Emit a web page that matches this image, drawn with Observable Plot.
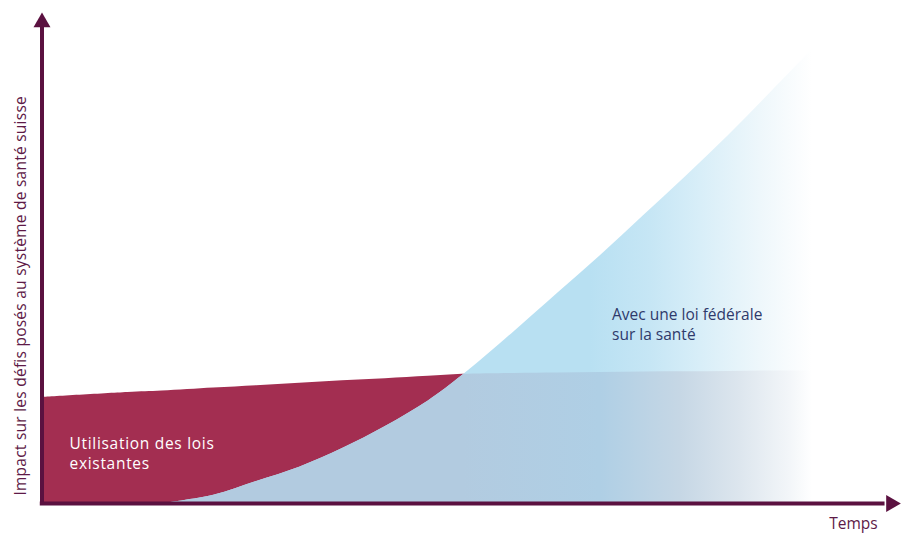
<!DOCTYPE html>
<html><head><meta charset="utf-8">
<script src="https://cdn.jsdelivr.net/npm/d3@7"></script>
<script src="https://cdn.jsdelivr.net/npm/@observablehq/plot@0.6"></script>
<style>body{margin:0;background:#fff} svg{display:block}</style>
</head><body><div id="chart"></div>
<script>
// Time grid (arbitrary units, 0–100) and the two series
const time          = [0, 10, 14, 20, 25, 30, 35, 40, 45, 49, 55, 60, 65, 70, 75, 80, 85, 90];
const existingLaws  = [21.6, 22.6, 22.9, 23.5, 24.0, 24.5, 25.0, 25.4, 25.9, 26.3, 26.5, 26.6, 26.7, 26.8, 26.85, 26.9, 27.0, 27.0];
const federalLaw    = [0, 0, 0, 1.7, 4.5, 7.4, 11.2, 15.7, 20.9, 26.1, 35.0, 42.7, 50.4, 58.5, 66.6, 75.0, 83.9, 92.9];

const seriesLabels = ["Utilisation des lois\nexistantes", "Avec une loi fédérale\nsur la santé"];
const xTitle = "Temps";
const yTitle = "Impact sur les défis posés au système de santé suisse";

const rows = time.map((t, i) => ({t, existing: existingLaws[i], federal: federalLaw[i]}));

const AXIS = "#5b1140";
const LABEL = "#5e1a47";
const font = "'Open Sans', Lato, sans-serif";

const chart = Plot.plot({
  width: 903, height: 534,
  marginLeft: 41.5, marginRight: 3, marginTop: 12, marginBottom: 31,
  x: {domain: [0, 100], axis: null},
  y: {domain: [0, 100], axis: null},
  style: {fontFamily: font, background: "white"},
  marks: [
    // existing laws (red) – the part right of the crossing is hidden beneath the blue area
    Plot.areaY(rows.filter(d => d.t <= 70), {x: "t", y: "existing", fill: "#a32e51", curve: "catmull-rom"}),
    // federal law (blue, fading)
    Plot.areaY(rows.filter(d => d.t >= 14), {x: "t", y: "federal", fill: "url(#gradFederal)", curve: "catmull-rom"}),
    // overlap of both (clipped to the blue area below)
    Plot.areaY(rows, {x: "t", y: "existing", fill: "url(#gradOverlap)", curve: "catmull-rom"}),
    Plot.ruleX([0], {x: 0, y1: -0.4, y2: 97, stroke: AXIS, strokeWidth: 4}),
    Plot.ruleY([0], {y: 0, x1: -0.2, x2: 98.2, stroke: AXIS, strokeWidth: 4}),
    Plot.dot([0], {x: 0, y: 98.0, symbol: "triangle", r: 6.3, fill: AXIS, stroke: "none"}),
    Plot.dot([0], {x: 98.9, y: 0, symbol: "triangle", r: 6.3, fill: AXIS, stroke: "none", rotate: 90}),
    Plot.text([seriesLabels[0]], {x: 3.2, y: 14.05, text: d => d, fill: "white", fontSize: 15.5,
      textAnchor: "start", lineAnchor: "top", lineHeight: 1.29}),
    Plot.text([seriesLabels[1]], {x: 66.4, y: 40.3, text: d => d, fill: "#2f3a6b", fontSize: 15.5,
      textAnchor: "start", lineAnchor: "top", lineHeight: 1.29}),
    Plot.text([xTitle], {x: 91.7, y: -2.95, text: d => d, fill: LABEL, fontSize: 15.5,
      textAnchor: "start", lineAnchor: "top"}),
    Plot.text([yTitle], {x: 0, y: 42.3, dx: -21, rotate: -90, text: d => d, fill: LABEL, fontSize: 15.5,
      textAnchor: "middle", lineAnchor: "middle"})
  ]
});

// gradients (horizontal fade to white), positioned through the x scale
const xs = chart.scale("x");
const gx1 = xs.apply(49), gx2 = xs.apply(92);
const off = v => Math.max(0, Math.min(1, (xs.apply(v) - gx1) / (gx2 - gx1))).toFixed(4);
const stops = (list) => list.map(([v, c]) => `<stop offset="${off(v)}" stop-color="${c}"/>`).join("");
const pxToT = p => xs.invert(p);
const defs = document.createElementNS("http://www.w3.org/2000/svg", "defs");
defs.innerHTML =
  `<linearGradient id="gradFederal" gradientUnits="userSpaceOnUse" x1="${gx1}" y1="0" x2="${gx2}" y2="0">` +
  stops([[49, "#b8e0f2"], [pxToT(590), "#b8e0f2"], [pxToT(650), "#c6e6f5"], [pxToT(700), "#d8eef8"],
         [pxToT(760), "#eef7fb"], [pxToT(812), "#ffffff"]]) +
  `</linearGradient>` +
  `<linearGradient id="gradOverlap" gradientUnits="userSpaceOnUse" x1="${gx1}" y1="0" x2="${gx2}" y2="0">` +
  stops([[49, "#b2cbe0"], [pxToT(600), "#afcfe5"], [pxToT(680), "#c6d7e5"], [pxToT(740), "#dde6ee"],
         [pxToT(790), "#f3f6f9"], [pxToT(812), "#ffffff"]]) +
  `</linearGradient>`;
chart.insertBefore(defs, chart.firstChild);

// clip the overlap area to the federal-law area
const areas = chart.querySelectorAll('g[aria-label="area"]');
if (areas.length >= 3) {
  const bluePath = areas[1].querySelector("path");
  const clip = document.createElementNS("http://www.w3.org/2000/svg", "clipPath");
  clip.setAttribute("id", "clipFederal");
  const p = document.createElementNS("http://www.w3.org/2000/svg", "path");
  p.setAttribute("d", bluePath.getAttribute("d"));
  clip.appendChild(p);
  defs.appendChild(clip);
  areas[2].setAttribute("clip-path", "url(#clipFederal)");
}

// widen the lettering slightly to match the reference typeface
const texts = chart.querySelectorAll('g[aria-label="text"]');
if (texts.length >= 4) {
  texts[0].setAttribute("letter-spacing", "0.7");
  texts[3].setAttribute("letter-spacing", "0.25");
}

document.getElementById("chart").appendChild(chart);
</script>
</body></html>
